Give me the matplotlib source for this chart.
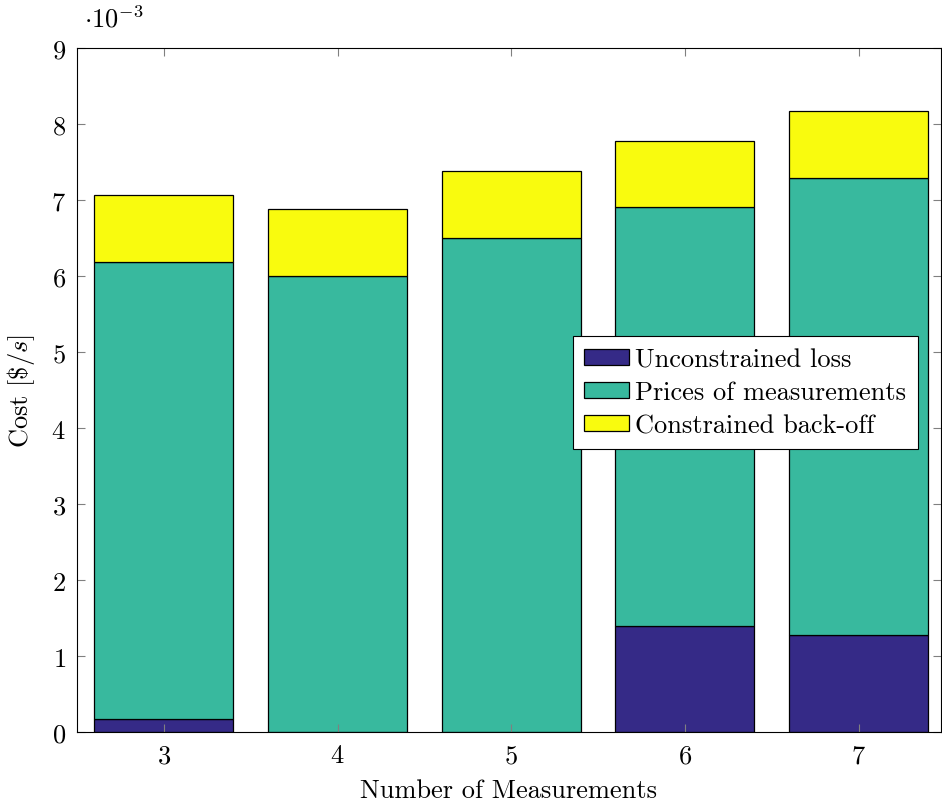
import matplotlib
matplotlib.use("Agg")
import matplotlib.pyplot as plt

plt.rcParams['font.family'] = 'serif'
plt.rcParams['font.serif'] = ['cmr10']
plt.rcParams['mathtext.fontset'] = 'cm'
plt.rcParams['axes.unicode_minus'] = False
plt.rcParams['axes.formatter.use_mathtext'] = True

# costs in units of 1e-3 $/s
n_meas = [3, 4, 5, 6, 7]
unconstrained = [0.18, 0.0, 0.0, 1.40, 1.28]
prices = [6.01, 6.00, 6.50, 5.51, 6.01]
backoff = [0.88, 0.88, 0.88, 0.87, 0.88]

c_blue = '#352a87'
c_green = '#38b99e'
c_yellow = '#f9fb0e'

fs = 19

fig = plt.figure(figsize=(9.42, 8.04), dpi=100)
ax = fig.add_axes([77 / 942, 1 - 733.3 / 804, 864 / 942, 684 / 804])

bottom2 = [a + b for a, b in zip(unconstrained, prices)]
kw = dict(width=0.8, edgecolor='black', linewidth=0.9)
ax.bar(n_meas, unconstrained, color=c_blue, label='Unconstrained loss', **kw)
ax.bar(n_meas, prices, bottom=unconstrained, color=c_green,
       label='Prices of measurements', **kw)
ax.bar(n_meas, backoff, bottom=bottom2, color=c_yellow,
       label='Constrained back-off', **kw)

ax.set_xlim(2.5, 7.475)
ax.set_ylim(0, 9)
ax.set_xticks(n_meas)
ax.set_yticks(range(10))
ax.tick_params(direction='in', length=6, width=0.8, color='#808080',
               top=True, right=True, labelsize=fs, pad=8)
for s in ax.spines.values():
    s.set_linewidth(0.8)

ax.set_xlabel('Number of Measurements', fontsize=fs, labelpad=8)
ax.set_ylabel(r'Cost [\$/$s$]', fontsize=fs, labelpad=10)
ax.text(0.008, 1.025, r'$\cdot 10^{-3}$', transform=ax.transAxes,
        fontsize=fs, ha='left', va='bottom')

leg = ax.legend(loc='upper left', bbox_to_anchor=(0.574, 0.579), fontsize=fs,
                frameon=True, fancybox=False, edgecolor='black', framealpha=1,
                handlelength=1.7, handleheight=0.55, handletextpad=0.25,
                labelspacing=0.36, borderpad=0.42, borderaxespad=0)
leg.get_frame().set_linewidth(0.8)

fig.savefig('out.png', dpi=100)
